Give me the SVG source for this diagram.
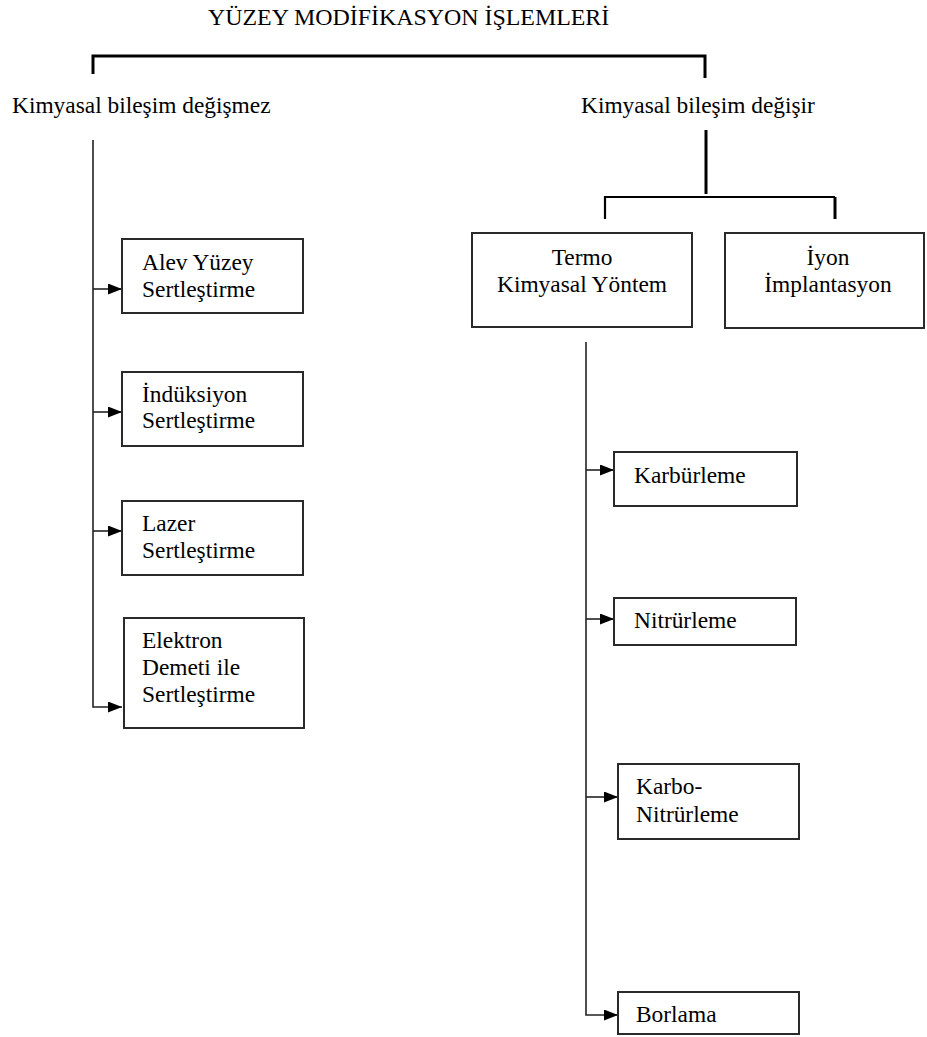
<svg xmlns="http://www.w3.org/2000/svg" width="927" height="1037" viewBox="0 0 927 1037">
<style>
text{font-family:"Liberation Serif","Times New Roman",serif;font-size:23.4px;fill:#000}
.title{font-size:23.9px}
.box{fill:#fff;stroke:#2a2a2a;stroke-width:2}
.thick{fill:none;stroke:#000;stroke-width:3}
.mid{fill:none;stroke:#000;stroke-width:2.2}
.thin{fill:none;stroke:#222;stroke-width:1.6}
.c{text-anchor:middle}
</style>
<defs>
<marker id="arr" markerUnits="userSpaceOnUse" markerWidth="14" markerHeight="11" refX="14" refY="5.5" orient="auto">
<path d="M0,0 L14,5.5 L0,11 Z" fill="#000"/>
</marker>
</defs>
<rect width="927" height="1037" fill="#fff"/>
<g id="title"><text class="title" x="208" y="25">YÜZEY MODİFİKASYON İŞLEMLERİ</text></g>
<g id="connectors">
<path class="thick" d="M93,74 V56 H705 V78"/>
<path class="thick" d="M706,130 V194"/>
<path class="mid" d="M605,219 V197 H835"/>
<path class="thick" d="M835,197 V219"/>
<path class="thin" d="M93,140 V707 H122" marker-end="url(#arr)"/>
<path class="thin" d="M93,289 H122" marker-end="url(#arr)"/>
<path class="thin" d="M93,412 H122" marker-end="url(#arr)"/>
<path class="thin" d="M93,531 H122" marker-end="url(#arr)"/>
<path class="thin" d="M586,342 V1015 H618" marker-end="url(#arr)"/>
<path class="thin" d="M586,470 H614" marker-end="url(#arr)"/>
<path class="thin" d="M586,619 H614" marker-end="url(#arr)"/>
<path class="thin" d="M586,797 H618" marker-end="url(#arr)"/>
</g>
<g id="left-label"><text x="12" y="113">Kimyasal bileşim değişmez</text></g>
<g id="right-label"><text x="581" y="113">Kimyasal bileşim değişir</text></g>
<g id="alev"><rect class="box" x="122" y="239" width="181" height="74"/><text x="142" y="270">Alev Yüzey</text><text x="142" y="297">Sertleştirme</text></g>
<g id="induksiyon"><rect class="box" x="122" y="372" width="181" height="74"/><text x="142" y="402">İndüksiyon</text><text x="142" y="428">Sertleştirme</text></g>
<g id="lazer"><rect class="box" x="122" y="501" width="181" height="74"/><text x="142" y="531">Lazer</text><text x="142" y="558">Sertleştirme</text></g>
<g id="elektron"><rect class="box" x="124" y="618" width="180" height="110"/><text x="142" y="648">Elektron</text><text x="142" y="675">Demeti ile</text><text x="142" y="702">Sertleştirme</text></g>
<g id="termo"><rect class="box" x="472" y="233" width="220" height="94"/><text class="c" x="582" y="265">Termo</text><text class="c" x="582" y="292">Kimyasal Yöntem</text></g>
<g id="iyon"><rect class="box" x="725" y="233" width="199" height="95"/><text class="c" x="828" y="265">İyon</text><text class="c" x="828" y="292">İmplantasyon</text></g>
<g id="karburleme"><rect class="box" x="614" y="452" width="183" height="54"/><text x="634" y="483">Karbürleme</text></g>
<g id="nitrurleme"><rect class="box" x="614" y="598" width="182" height="47"/><text x="634" y="628">Nitrürleme</text></g>
<g id="karbonitrurleme"><rect class="box" x="618" y="764" width="181" height="75"/><text x="636" y="794">Karbo-</text><text x="636" y="822">Nitrürleme</text></g>
<g id="borlama"><rect class="box" x="618" y="992" width="181" height="42"/><text x="636" y="1022">Borlama</text></g>
</svg>
